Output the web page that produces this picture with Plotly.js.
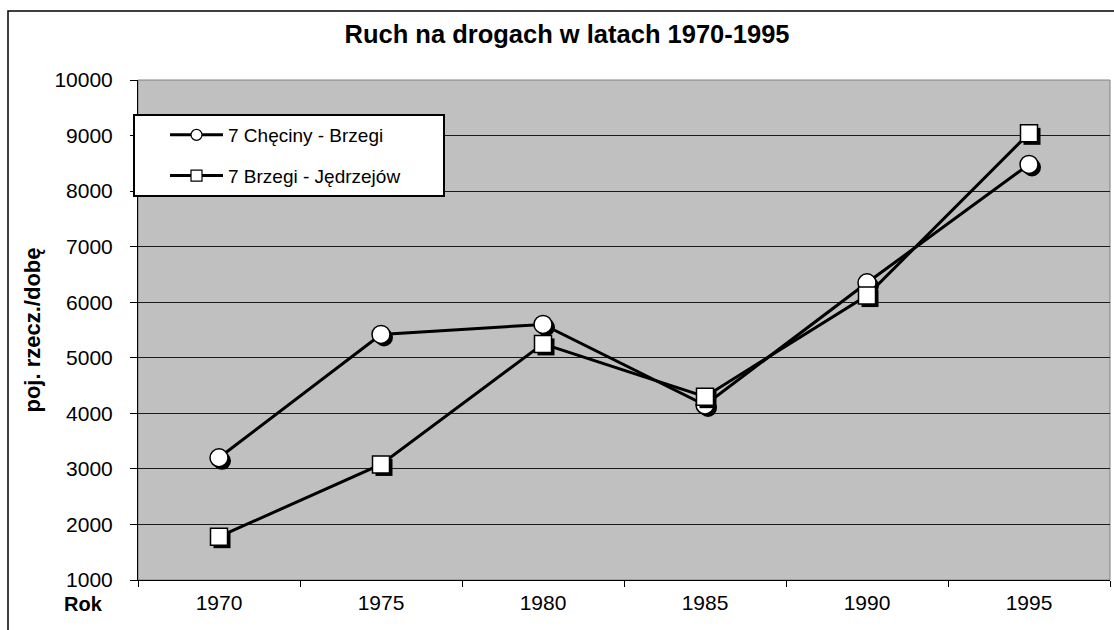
<!DOCTYPE html>
<html><head><meta charset="utf-8">
<script src="https://cdn.plot.ly/plotly-3.0.1.min.js"></script>
<style>html,body{margin:0;padding:0;background:#fff}#chart{width:1114px;height:630px}</style>
</head><body><div id="chart"></div>
<script>
const years = ['1970', '1975', '1980', '1985', '1990', '1995'];
const checinyBrzegi = [3200, 5420, 5600, 4150, 6350, 8480];
const brzegiJedrzejow = [1780, 3080, 5250, 4300, 6120, 9040];
const seriesNames = ['7 Chęciny - Brzegi', '7 Brzegi - Jędrzejów'];
const yTickVals = [1000, 2000, 3000, 4000, 5000, 6000, 7000, 8000, 9000, 10000];
const chartTitle = 'Ruch na drogach w latach 1970-1995';
const yTitle = 'poj. rzecz./dobę';
const xLabel = 'Rok';

const W = 1114, H = 630;
const M = {l: 138, r: 4, t: 80, b: 50};
const PW = W - M.l - M.r, PH = H - M.t - M.b;
const yMin = 1000, yMax = 10000;
const xR = [-0.5, years.length - 0.5];
const sh = 3; // shadow offset px
const dxu = sh * (xR[1] - xR[0]) / PW;
const dyu = sh * (yMax - yMin) / PH;
const FONT = 'Liberation Sans, Arial, sans-serif';
const legendPad = '&nbsp;'.repeat(7);

function hiddenX(shift) {
  return {type: 'category', categoryarray: years, overlaying: 'x', visible: false,
    range: [xR[0] - shift, xR[1] - shift], fixedrange: true};
}
function hiddenY(shift) {
  return {overlaying: 'y', visible: false, range: [yMin + shift, yMax + shift], fixedrange: true};
}

const traces = [
  {x: years, y: checinyBrzegi, name: seriesNames[0] + legendPad, mode: 'lines+markers', xaxis: 'x', yaxis: 'y',
   line: {color: '#000', width: 3}, legendgroup: 'a',
   marker: {symbol: 'circle', size: 11, color: '#fff', line: {color: '#000', width: 1.2}}},
  {x: years, y: checinyBrzegi, mode: 'markers', xaxis: 'x2', yaxis: 'y2', showlegend: false, hoverinfo: 'skip',
   marker: {symbol: 'circle', size: 18, color: '#000', line: {width: 0}}},
  {x: years, y: checinyBrzegi, mode: 'markers', xaxis: 'x3', yaxis: 'y3', showlegend: false,
   marker: {symbol: 'circle', size: 18, color: '#fff', line: {color: '#000', width: 1.5}}},
  {x: years, y: brzegiJedrzejow, name: seriesNames[1] + legendPad, mode: 'lines+markers', xaxis: 'x3', yaxis: 'y3',
   line: {color: '#000', width: 3}, legendgroup: 'b',
   marker: {symbol: 'square', size: 11, color: '#fff', line: {color: '#000', width: 1.2}}},
  {x: years, y: brzegiJedrzejow, mode: 'markers', xaxis: 'x4', yaxis: 'y4', showlegend: false, hoverinfo: 'skip',
   marker: {symbol: 'square', size: 17, color: '#000', line: {width: 0}}},
  {x: years, y: brzegiJedrzejow, mode: 'markers', xaxis: 'x5', yaxis: 'y5', showlegend: false,
   marker: {symbol: 'square', size: 17, color: '#fff', line: {color: '#000', width: 1.5}}}
];

const px2paperX = px => (px - M.l) / PW;
const px2paperY = py => (H - M.b - py) / PH;

const layout = {
  width: W, height: H,
  margin: {l: M.l, r: M.r, t: M.t, b: M.b, pad: 0},
  paper_bgcolor: '#fff', plot_bgcolor: '#c0c0c0',
  font: {family: FONT, color: '#000', size: 21},
  title: {text: '<b>' + chartTitle + '</b>', font: {family: FONT, size: 25.5, color: '#000'},
    x: 567 / W, xref: 'container', xanchor: 'center', y: 1 - 34 / H, yref: 'container', yanchor: 'middle'},
  showlegend: true,
  legend: {x: px2paperX(133), y: px2paperY(114), xanchor: 'left', yanchor: 'top',
    bgcolor: '#fff', bordercolor: '#000', borderwidth: 2,
    font: {family: FONT, size: 19, color: '#000'},
    traceorder: 'grouped', tracegroupgap: 13, itemwidth: 53, indentation: 30},
  xaxis: {type: 'category', categoryarray: years, range: xR, tickson: 'boundaries',
    ticks: 'outside', ticklen: 6, tickcolor: '#000', tickwidth: 1,
    showline: true, linecolor: '#000', linewidth: 1, showgrid: false, zeroline: false,
    tickfont: {family: FONT, size: 21, color: '#000'}, ticklabelstandoff: 4, fixedrange: true},
  yaxis: {range: [yMin, yMax], tickvals: yTickVals, ticktext: yTickVals.map(String),
    ticks: 'outside', ticklen: 7, tickcolor: '#000', tickwidth: 1,
    showline: true, linecolor: '#000', linewidth: 1,
    showgrid: true, gridcolor: '#1a1a1a', gridwidth: 1, zeroline: false,
    tickfont: {family: FONT, size: 21, color: '#000'}, ticklabelstandoff: 13,
    title: {text: '<b>' + yTitle + '</b>', font: {family: FONT, size: 22, color: '#000'}, standoff: 7},
    fixedrange: true},
  xaxis2: hiddenX(dxu), yaxis2: hiddenY(dyu),
  xaxis3: hiddenX(0), yaxis3: hiddenY(0),
  xaxis4: hiddenX(dxu), yaxis4: hiddenY(dyu),
  xaxis5: hiddenX(0), yaxis5: hiddenY(0),
  annotations: [
    {text: '<b>' + xLabel + '</b>', xref: 'paper', yref: 'paper', x: px2paperX(83), y: px2paperY(604),
     xanchor: 'center', yanchor: 'middle', showarrow: false, font: {family: FONT, size: 20, color: '#000'}}
  ],
  shapes: [
    {type: 'rect', xref: 'paper', yref: 'paper', x0: 0, x1: 1, y0: 0, y1: 1,
     line: {color: '#808080', width: 1}, layer: 'below'},
    {type: 'rect', xref: 'paper', yref: 'paper', x0: px2paperX(8), x1: px2paperX(1125),
     y0: px2paperY(645), y1: px2paperY(11), line: {color: '#000', width: 1.5}, layer: 'above'}
  ]
};

Plotly.newPlot('chart', traces, layout, {displayModeBar: false, staticPlot: true});
</script>
</body></html>
